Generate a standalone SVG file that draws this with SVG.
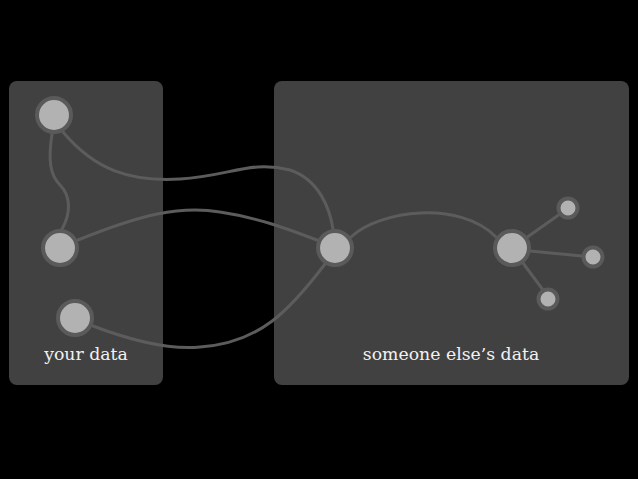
<svg xmlns="http://www.w3.org/2000/svg" width="638" height="479" viewBox="0 0 638 479">
<style>
.panel{fill:#414141}
.edge{fill:none;stroke:#5c5c5c;stroke-width:3;stroke-linecap:round}
.node{fill:#b2b2b2;stroke:#5a5a5a;stroke-width:4}
.label{font-family:"DejaVu Serif","Liberation Serif",serif;font-size:17.3px;fill:#f2f2f2;text-anchor:middle}
</style>
<rect x="0" y="0" width="638" height="479" fill="#000"/>
<g id="panel-yours"><rect class="panel" x="9" y="81" width="154" height="304" rx="8"/><text class="label" x="86" y="360">your data</text></g>
<g id="panel-others"><rect class="panel" x="274" y="81" width="355" height="304" rx="8"/><text class="label" x="451" y="360">someone else’s data</text></g>
<g id="connectors">
<path class="edge" d="M52,134 C48,160 50,175 60,185 C72,197 70,215 62,229"/>
<path class="edge" d="M63,132 C95,170 130,182 180,179 C230,176 250,160 290,170 C320,180 330,210 333,229"/>
<path class="edge" d="M78,240 C140,215 180,205 220,212 C260,218 290,230 317,240"/>
<path class="edge" d="M93,326 C130,340 170,350 200,347 C260,343 290,310 325,264"/>
<path class="edge" d="M351,237 C380,210 460,200 496,237"/>
<path class="edge" d="M526,238 L560,214"/>
<path class="edge" d="M530,251 L582,256"/>
<path class="edge" d="M523,263 L543,290"/>
</g>
<g id="node-a"><circle class="node" cx="54" cy="115" r="17"/></g>
<g id="node-b"><circle class="node" cx="60" cy="248" r="17"/></g>
<g id="node-c"><circle class="node" cx="75" cy="318" r="17"/></g>
<g id="node-d"><circle class="node" cx="335" cy="248" r="17"/></g>
<g id="node-e"><circle class="node" cx="512" cy="248" r="17"/></g>
<g id="node-f"><circle class="node" cx="568" cy="208" r="9.5"/></g>
<g id="node-g"><circle class="node" cx="593" cy="257" r="9.5"/></g>
<g id="node-h"><circle class="node" cx="548" cy="299" r="9.5"/></g>
</svg>
